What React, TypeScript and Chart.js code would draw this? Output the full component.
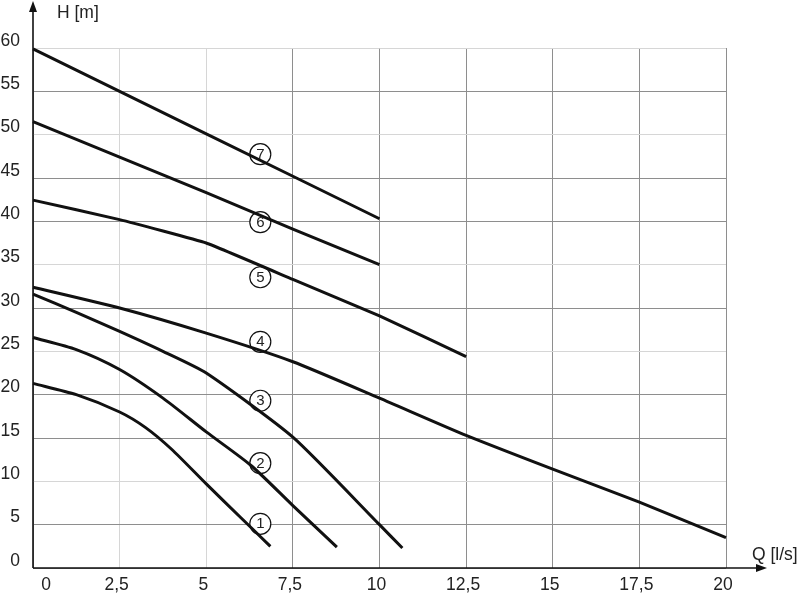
import React, { useEffect, useRef } from "react";
import { Chart, registerables } from "chart.js";

Chart.register(...registerables);

// ---- data ----
const curveNames = ["1", "2", "3", "4", "5", "6", "7"];

const q1 = [0, 1.25, 2.5, 3.25, 4, 5, 6, 6.85];
const h1 = [21.3, 20.0, 18.0, 16.2, 13.7, 9.7, 5.8, 2.5];

const q2 = [0, 1.25, 2.5, 3.75, 5, 6.3, 7.5, 8.77];
const h2 = [26.6, 25.2, 22.9, 19.6, 15.7, 11.8, 7.2, 2.4];

const q3 = [0, 1.25, 2.5, 3.75, 5, 7.5, 10, 10.66];
const h3 = [31.6, 29.5, 27.3, 25.0, 22.5, 15.1, 5.0, 2.3];

const q4 = [0, 2.5, 5, 7.5, 10, 12.5, 15, 17.5, 20];
const h4 = [32.4, 30.0, 27.1, 23.8, 19.6, 15.3, 11.4, 7.6, 3.5];

const q5 = [0, 2.5, 5, 7.5, 10, 12.5];
const h5 = [42.45, 40.2, 37.5, 33.3, 29.1, 24.4];

const q6 = [0, 2.5, 5, 7.5, 10];
const h6 = [51.5, 47.4, 43.3, 39.1, 35.0];

const q7 = [0, 2.5, 5, 7.5, 10];
const h7 = [59.9, 55.0, 50.1, 45.2, 40.3];

const labelQ = [6.56, 6.56, 6.56, 6.56, 6.56, 6.56, 6.56];
const labelH = [5.1, 12.1, 19.3, 26.1, 33.55, 39.9, 47.75];

const xTickLabels = ["0", "2,5", "5", "7,5", "10", "12,5", "15", "17,5", "20"];
const yTickLabels = ["0", "5", "10", "15", "20", "25", "30", "35", "40", "45", "50", "55", "60"];

const xAxisTitle = "Q [l/s]";
const yAxisTitle = "H [m]";

// ---- helpers ----
const pts = (qs: number[], hs: number[]) => qs.map((q, i) => ({ x: q, y: hs[i] }));

const FONT = "'Liberation Sans', Arial, sans-serif";
const TEXT = "#222";
const GRID_LIGHT = "#d6d6d6";
const GRID_DARK = "#8e8e8e";
const LIGHT_Y = [10, 25, 35, 50, 60];
const LIGHT_X = [2.5, 5];

const decorPlugin = {
  id: "decor",
  beforeDraw(chart: any) {
    // the "0" on the Q axis sits a little right of the vertical axis
    const sx = chart.scales.x;
    const items = sx.getLabelItems(chart.chartArea);
    if (items && items[0] && !items[0].__shifted) {
      items[0].options.translation[0] += 16;
      items[0].__shifted = true;
    }
  },
  afterDatasetsDraw(chart: any) {
    const ctx = chart.ctx;
    const meta = chart.getDatasetMeta(chart.data.datasets.length - 1);
    ctx.save();
    ctx.fillStyle = TEXT;
    ctx.font = `15px ${FONT}`;
    ctx.textAlign = "center";
    ctx.textBaseline = "middle";
    meta.data.forEach((el: any, i: number) => {
      ctx.fillText(curveNames[i], el.x, el.y + 0.5);
    });
    ctx.restore();
  },
  afterDraw(chart: any) {
    const ctx = chart.ctx;
    const { left, bottom } = chart.chartArea;
    const xEnd = 767;
    const yEnd = 1;
    ctx.save();
    ctx.strokeStyle = "#111";
    ctx.fillStyle = "#111";
    ctx.lineWidth = 1.6;
    // x axis
    ctx.beginPath();
    ctx.moveTo(left, bottom);
    ctx.lineTo(xEnd - 8, bottom);
    ctx.stroke();
    ctx.beginPath();
    ctx.moveTo(xEnd, bottom);
    ctx.lineTo(xEnd - 11, bottom - 4);
    ctx.lineTo(xEnd - 11, bottom + 4);
    ctx.closePath();
    ctx.fill();
    // y axis
    ctx.beginPath();
    ctx.moveTo(left, bottom);
    ctx.lineTo(left, yEnd + 8);
    ctx.stroke();
    ctx.beginPath();
    ctx.moveTo(left, yEnd);
    ctx.lineTo(left - 4, yEnd + 11);
    ctx.lineTo(left + 4, yEnd + 11);
    ctx.closePath();
    ctx.fill();
    // titles
    ctx.fillStyle = TEXT;
    ctx.font = `17.5px ${FONT}`;
    ctx.textAlign = "left";
    ctx.textBaseline = "middle";
    ctx.fillText(yAxisTitle, 57, 13);
    ctx.fillText(xAxisTitle, 752, 555);
    ctx.restore();
  },
};

export default function App() {
  const ref = useRef<HTMLCanvasElement | null>(null);

  useEffect(() => {
    if (!ref.current) return;
    const curves = [
      { d: pts(q1, h1), t: 0.25 },
      { d: pts(q2, h2), t: 0.25 },
      { d: pts(q3, h3), t: 0.2 },
      { d: pts(q4, h4), t: 0.2 },
      { d: pts(q5, h5), t: 0.1 },
      { d: pts(q6, h6), t: 0 },
      { d: pts(q7, h7), t: 0 },
    ];
    const datasets: any[] = curves.map((c, i) => ({
      type: "line",
      label: curveNames[i],
      data: c.d,
      borderColor: "#111",
      borderWidth: 3,
      pointRadius: 0,
      tension: c.t,
      fill: false,
      clip: false,
    }));
    datasets.push({
      type: "scatter",
      label: "labels",
      data: pts(labelQ, labelH),
      pointRadius: 10.5,
      pointStyle: "circle",
      backgroundColor: "#fff",
      borderColor: "#111",
      borderWidth: 1.2,
      clip: false,
    });

    const chart = new Chart(ref.current, {
      type: "line",
      data: { datasets },
      options: {
        animation: false,
        responsive: false,
        layout: { padding: { left: 0, right: 74, top: 48, bottom: 0 } },
        plugins: { legend: { display: false }, tooltip: { enabled: false } },
        events: [],
        scales: {
          x: {
            type: "linear",
            min: 0,
            max: 20,
            afterFit: (s: any) => {
              s.height = 25;
            },
            border: { display: false },
            grid: {
              drawTicks: false,
              lineWidth: 1,
              color: (c: any) =>
                c.tick && LIGHT_X.includes(c.tick.value) ? GRID_LIGHT : GRID_DARK,
            },
            ticks: {
              stepSize: 2.5,
              padding: 7,
              labelOffset: -3,
              color: TEXT,
              font: { size: 17.5, family: FONT },
              maxRotation: 0,
              autoSkip: false,
              callback: (_v: any, i: number) => xTickLabels[i],
            },
          },
          y: {
            type: "linear",
            min: 0,
            max: 60,
            afterFit: (s: any) => {
              s.width = 33;
            },
            border: { display: false },
            grid: {
              drawTicks: false,
              lineWidth: 1,
              color: (c: any) =>
                c.tick && LIGHT_Y.includes(c.tick.value) ? GRID_LIGHT : GRID_DARK,
            },
            ticks: {
              stepSize: 5,
              padding: 13,
              labelOffset: -7,
              color: TEXT,
              font: { size: 17.5, family: FONT },
              autoSkip: false,
              callback: (_v: any, i: number) => yTickLabels[i],
            },
          },
        },
      },
      plugins: [decorPlugin],
    } as any);

    return () => chart.destroy();
  }, []);

  return (
    <div style={{ position: "fixed", left: 0, top: 0, width: 800, height: 593, background: "#fff" }}>
      <canvas ref={ref} width={800} height={593} style={{ display: "block" }} />
    </div>
  );
}
